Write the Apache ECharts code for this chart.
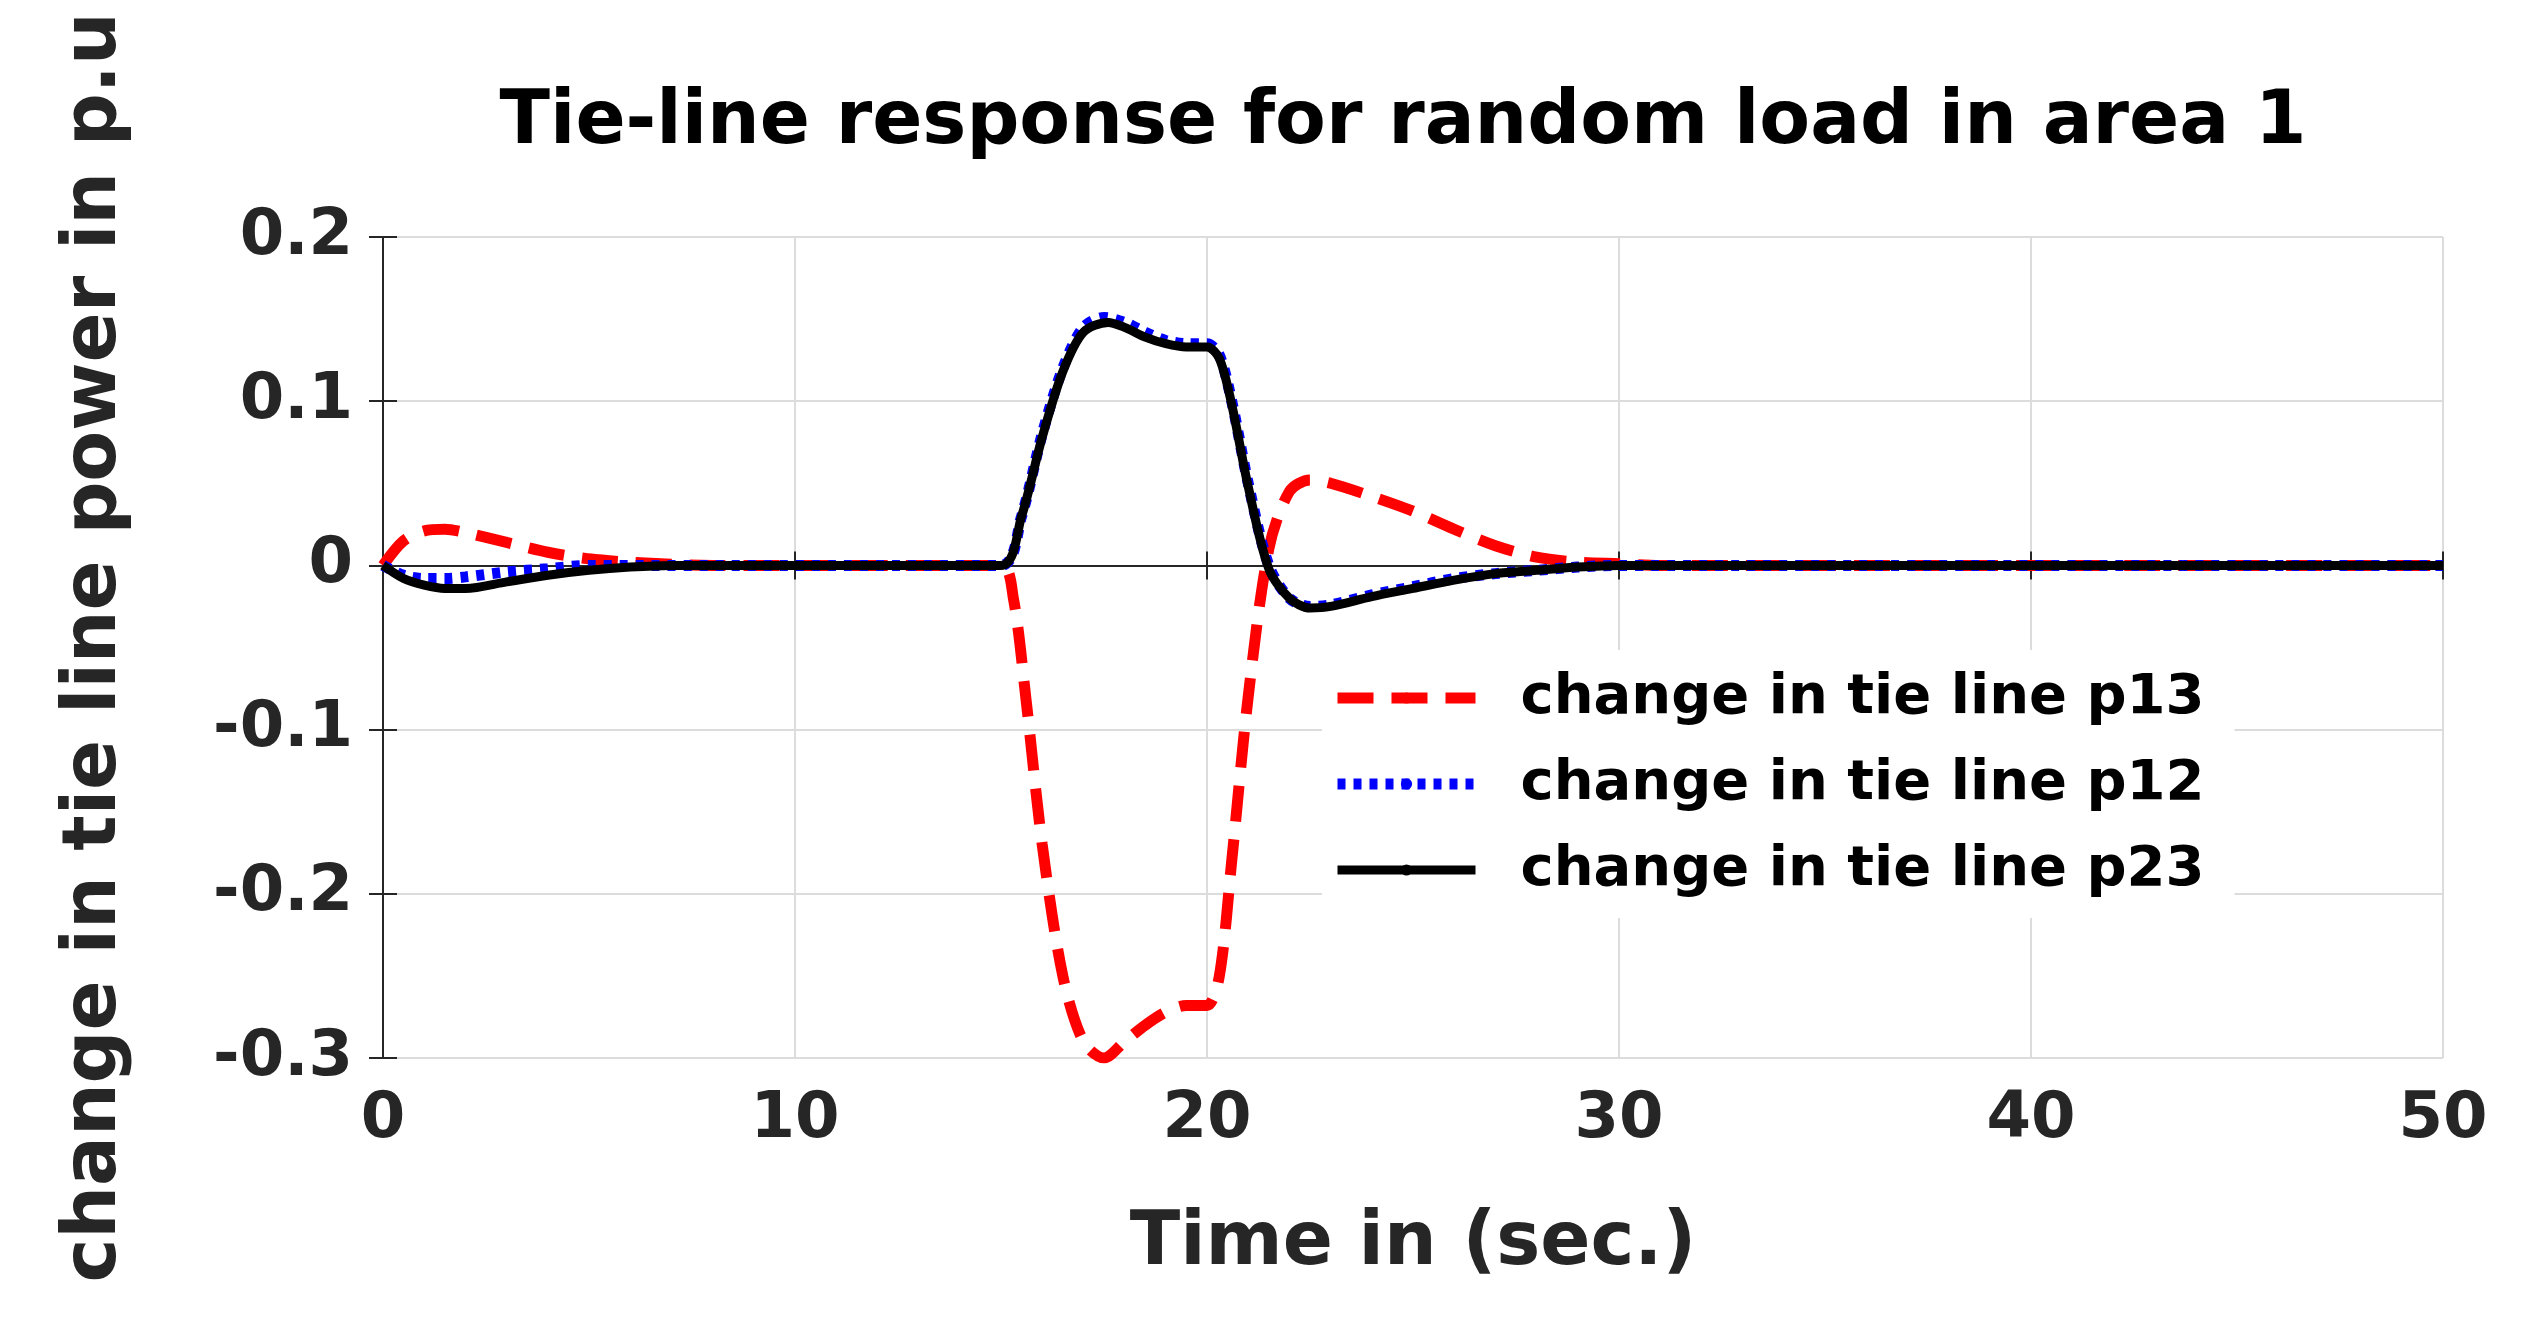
<!DOCTYPE html>
<html>
<head>
<meta charset="utf-8">
<title>Tie-line response</title>
<script src="https://cdn.jsdelivr.net/npm/echarts@6/dist/echarts.min.js"></script>
<style>html,body{margin:0;background:#fff}</style>
</head>
<body>
<div id="main" style="width:2531px;height:1321px;"></div>
<script type="text/javascript">
// time samples (s) and responses
var t13 = [0,0.5,1,1.5,2,3,4,5,6,8,15,15.3,15.6,16,16.5,17,17.5,18,18.5,19,19.5,20,20.3,20.6,21,21.5,22,22.5,23,24,25,26,27,28,29,30,31,50];
var p13 = [0,0.015,0.021,0.022,0.02,0.014,0.008,0.004,0.002,0,0,-0.02,-0.08,-0.17,-0.25,-0.29,-0.3,-0.29,-0.28,-0.272,-0.268,-0.268,-0.25,-0.18,-0.08,0.01,0.045,0.052,0.05,0.042,0.033,0.022,0.012,0.005,0.002,0.001,0,0];
var t12 = [0,0.5,1,1.5,2,3,4,5,15,15.5,16,16.5,17,17.5,18,18.5,19,19.5,20,20.3,20.6,21,21.5,22,22.5,23,24,25,26,27,28,29,30,50];
var p12 = [0,-0.006,-0.008,-0.008,-0.007,-0.004,-0.002,0,0,0.03,0.08,0.12,0.145,0.151,0.148,0.142,0.137,0.135,0.135,0.128,0.1,0.05,0,-0.02,-0.025,-0.024,-0.018,-0.013,-0.008,-0.005,-0.003,-0.001,0,0];
var t23 = [0,0.5,1,1.5,2,3,4,5,6,7,15,15.5,16,16.5,17,17.6,18,18.5,19,19.5,20,20.3,20.6,21,21.5,22,22.5,23,24,25,26,27,28,29,30,50];
var p23 = [0,-0.008,-0.012,-0.014,-0.014,-0.01,-0.006,-0.003,-0.001,0,0,0.03,0.078,0.118,0.142,0.148,0.145,0.139,0.135,0.133,0.133,0.126,0.098,0.048,-0.002,-0.02,-0.026,-0.025,-0.019,-0.014,-0.009,-0.005,-0.003,-0.001,0,0];
var names = ['change in tie line p13','change in tie line p12','change in tie line p23'];

function pairs(t, v) { return t.map(function (x, i) { return [x, v[i]]; }); }

var chart = echarts.init(document.getElementById('main'));
var font = 'DejaVu Sans, Liberation Sans, sans-serif';
var frame = {show: true, lineStyle: {color: '#262626', width: 2}};
var tick = {inside: true, length: 14, lineStyle: {color: '#262626', width: 2}};
chart.setOption({
    animation: false,
    backgroundColor: '#fff',
    title: {
        text: 'Tie-line response for random load in area 1',
        left: 1398, top: 82, textAlign: 'center',
        textStyle: {fontFamily: font, fontWeight: 'bold', fontSize: 74, color: '#000'}
    },
    grid: {left: 383, right: 88, top: 237, bottom: 263},
    legend: {
        orient: 'vertical', left: 1322, top: 650,
        itemWidth: 138, itemHeight: 14, itemGap: 30,
        backgroundColor: '#fff', padding: [20, 30, 20, 10],
        textStyle: {fontFamily: font, fontWeight: 'bold', fontSize: 56, color: '#000', padding: [0, 0, 0, 40]},
        data: [
            {name: names[0], lineStyle: {width: 11, type: [36, 18]}},
            {name: names[1], lineStyle: {width: 11, type: [8, 8]}},
            {name: names[2], lineStyle: {width: 9}}
        ]
    },
    xAxis: [{
        type: 'value', min: 0, max: 50, interval: 10,
        name: 'Time in (sec.)', nameLocation: 'middle', nameGap: 150,
        nameTextStyle: {fontFamily: font, fontWeight: 'bold', fontSize: 74, color: '#262626'},
        axisLine: frame, axisTick: tick,
        axisLabel: {fontFamily: font, fontWeight: 'bold', fontSize: 64, color: '#262626', margin: 30},
        splitLine: {lineStyle: {color: '#dcdcdc', width: 2}}
    }, {
        type: 'value', position: 'top', min: 0, max: 50, interval: 10,
        axisLine: frame, axisTick: tick, axisLabel: {show: false}, splitLine: {show: false}
    }],
    yAxis: [{
        type: 'value', min: -0.3, max: 0.2, interval: 0.1,
        name: 'change in tie line power in p.u', nameLocation: 'middle', nameGap: 250,
        nameTextStyle: {fontFamily: font, fontWeight: 'bold', fontSize: 74, color: '#262626'},
        axisLine: frame, axisTick: tick,
        axisLabel: {fontFamily: font, fontWeight: 'bold', fontSize: 64, color: '#262626', margin: 30,
            formatter: function (v) { return Math.abs(v) < 1e-9 ? '0' : String(Math.round(v * 10) / 10); }},
        splitLine: {lineStyle: {color: '#dcdcdc', width: 2}}
    }, {
        type: 'value', position: 'right', min: -0.3, max: 0.2, interval: 0.1,
        axisLine: frame, axisTick: tick, axisLabel: {show: false}, splitLine: {show: false}
    }],
    series: [
        {name: names[0], type: 'line', smooth: 0.3, symbol: 'none', data: pairs(t13, p13),
         lineStyle: {color: '#ff0000', width: 11, type: [36, 18]}, itemStyle: {color: '#ff0000'}},
        {name: names[1], type: 'line', smooth: 0.3, symbol: 'none', data: pairs(t12, p12),
         lineStyle: {color: '#0000ff', width: 11, type: [8, 8]}, itemStyle: {color: '#0000ff'}},
        {name: names[2], type: 'line', smooth: 0.3, symbol: 'none', data: pairs(t23, p23),
         lineStyle: {color: '#000000', width: 9}, itemStyle: {color: '#000000'}}
    ]
});
</script>
</body>
</html>
